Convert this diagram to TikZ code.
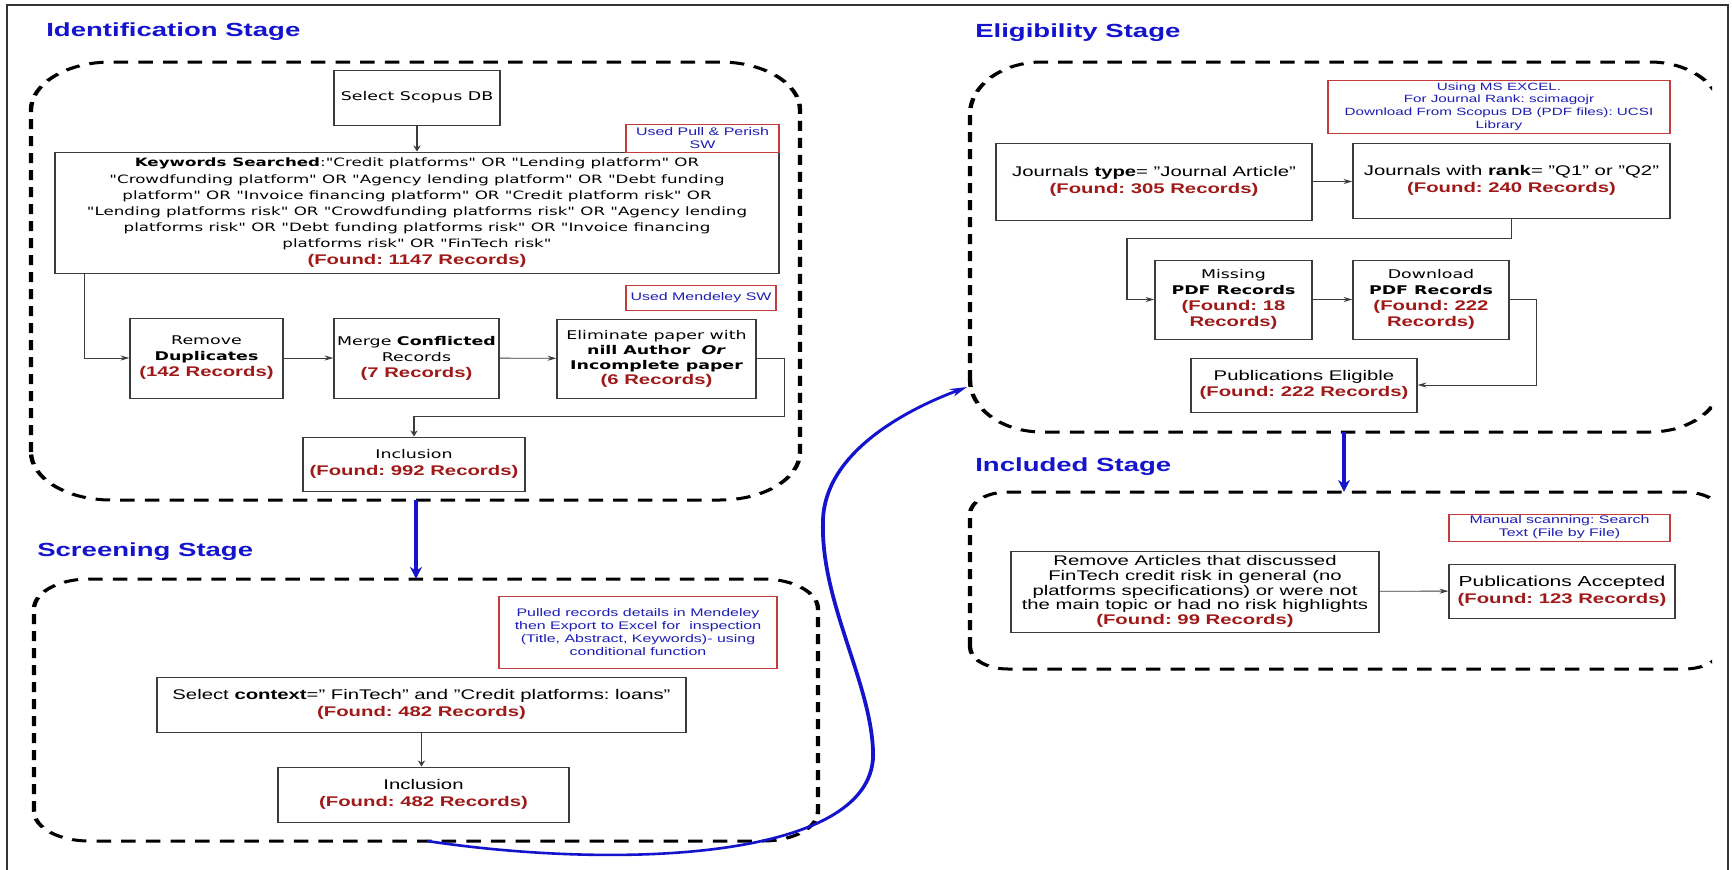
\documentclass[tikz,border=0pt]{standalone}
\usepackage{fontspec}
\setmainfont{Liberation Sans}
\newfontfamily\comic{DejaVu Sans}
\usetikzlibrary{arrows.meta}
\frenchspacing

\definecolor{ttlblue}{RGB}{20,20,205}
\definecolor{recred}{RGB}{160,25,25}
\definecolor{notered}{RGB}{195,60,60}
\definecolor{noteblue}{RGB}{30,30,180}
\definecolor{boxgray}{RGB}{60,60,60}

\newcommand\rec[1]{{\normalfont\bfseries\fontsize{14}{16.7}\selectfont\color{recred}#1}}

\newcommand\stagebox[6]{%
  \draw[stage] (#1,#4-#6) -- (#1,#2+#6)
    arc[start angle=180,end angle=270,x radius=#5,y radius=#6] -- (#3-#5,#2)
    arc[start angle=270,end angle=360,x radius=#5,y radius=#6] -- (#3,#4-#6)
    arc[start angle=0,end angle=90,x radius=#5,y radius=#6] -- (#1+#5,#4)
    arc[start angle=90,end angle=180,x radius=#5,y radius=#6] -- cycle;}

\tikzset{
  pos/.style n args={4}{at={({(#1+#3)/2},{(#2+#4)/2})},
    minimum width={(#3-#1)*0.689655pt}, minimum height={(#4-#2)*1pt}, inner sep=0pt, anchor=center},
  box/.style={draw=boxgray, line width=1pt, align=center,
    font=\fontsize{14}{16.7}\selectfont},
  cbox/.style={box, font=\comic\fontsize{12}{16}\selectfont},
  note/.style={draw=notered, line width=0.8pt, align=center,
    text=noteblue, font=\fontsize{11}{13}\selectfont},
  title/.style={anchor=west, text=ttlblue, font=\bfseries\fontsize{19}{22}\selectfont, inner sep=0pt},
  flow/.style={draw=boxgray, line width=0.9pt, -{Stealth[length=6pt,width=5pt]}},
  bigarrow/.style={draw=ttlblue, line width=2.6pt, -{Stealth[length=12pt,width=8pt]}},
  stage/.style={draw=black, line width=3pt, dash pattern=on 10pt off 7pt},
}

\begin{document}
\begin{tikzpicture}[x=1pt,y=-1pt]
\useasboundingbox (0,0) rectangle (1732,870);
\fill[white] (0,0) rectangle (1732,870);
\draw[line width=1.2pt, black!80] (7,870) -- (7,5) -- (1728,5) -- (1728,870);

\begin{scope}[x=0.689655pt, y=-1pt, transform canvas={xscale=1.45}]

% ---------- titles
\node[title] (t1) at (46,32) {Identification Stage};
\node[title] (t2) at (37,552) {Screening Stage};
\node[title] (t3) at (975,33) {Eligibility Stage};
\node[title] (t4) at (975,467) {Included Stage};

% ---------- stage frames
\stagebox{31}{62}{800}{500}{80}{48}
\stagebox{34}{579}{818}{841}{55}{30}
\begin{scope}
\clip (0,0) rectangle (1712,870);
\stagebox{970}{62}{1722}{432}{72}{52}
\stagebox{970}{492}{1722}{669}{38}{22}
\end{scope}

% ---------- identification
\node[cbox, pos={334}{70}{500}{125}] (scopus) {Select Scopus DB};
\node[cbox, pos={55}{152}{779}{273}, font=\comic\fontsize{11.5}{16.2}\selectfont] (kw)
 {\textbf{Keywords Searched}:"Credit platforms" OR "Lending platform" OR\\
  "Crowdfunding platform" OR "Agency lending platform" OR "Debt funding\\
  platform" OR "Invoice financing platform" OR "Credit platform risk" OR\\
  "Lending platforms risk" OR "Crowdfunding platforms risk" OR "Agency lending\\
  platforms risk" OR "Debt funding platforms risk" OR "Invoice financing\\
  platforms risk" OR "FinTech risk"\\
  \rec{(Found: 1147 Records)}};
\node[note, pos={626}{124}{779}{152}] (pp) {Used Pull \& Perish\\SW};
\node[note, pos={626}{285}{776}{310}] (mend) {Used Mendeley SW};
\node[cbox, pos={130}{318}{283}{398}] (dup) {Remove\\\textbf{Duplicates}\\\rec{(142 Records)}};
\node[cbox, pos={334}{318}{499}{398}] (merge) {Merge \textbf{Conflicted}\\Records\\\rec{(7 Records)}};
\node[cbox, pos={557}{319}{756}{398}, font=\comic\fontsize{12}{15}\selectfont] (elim)
 {Eliminate paper with\\\textbf{nill Author}\ \ \textbf{\textit{Or}}\\\textbf{Incomplete paper}\\\rec{(6 Records)}};
\node[cbox, pos={303}{437}{525}{491}, font=\comic\fontsize{12}{17.5}\selectfont] (inc1) {Inclusion\\\rec{(Found: 992 Records)}};

\draw[flow] (scopus.south) -- (kw.north);
\draw[flow] (kw.south west) ++(30,0) |- (dup.west);
\draw[flow] (dup) -- (merge);
\draw[flow] (merge) -- (elim);
\draw[flow] (elim.east) -- ++(28,0) -- ++(0,58) -| (inc1.north);

\coordinate (idb) at (416,500);
\coordinate (sct) at (416,579);
\draw[bigarrow] (idb) -- (sct);

% ---------- screening
\node[note, pos={499}{596}{777}{668}] (pull) {Pulled records details in Mendeley\\then Export to Excel for\ \ inspection\\(Title, Abstract, Keywords)- using\\conditional function};
\node[box, pos={157}{677}{686}{732}] (ctx) {Select \textbf{context}=" FinTech" and "Credit platforms: loans"\\\rec{(Found: 482 Records)}};
\node[box, pos={278}{767}{569}{822}] (inc2) {Inclusion\\\rec{(Found: 482 Records)}};
\draw[flow] (ctx.south) -- (ctx.south |- inc2.north);

\coordinate (scb) at (427,841);
\coordinate (elb) at (967,387);
\draw[bigarrow] (scb) .. controls (620,870) and (880,860) .. (873,750)
  .. controls (870,680) and (820,600) .. (823,520)
  .. controls (825,455) and (900,412) .. (elb);

% ---------- eligibility
\node[note, pos={1328}{80}{1670}{133}, font=\fontsize{10.5}{12.7}\selectfont] (excel)
 {Using MS EXCEL.\\For Journal Rank: scimagojr\\Download From Scopus DB (PDF files): UCSI\\Library};
\node[box, pos={996}{143}{1312}{220}] (jtype) {Journals \textbf{type}= "Journal Article"\\\rec{(Found: 305 Records)}};
\node[box, pos={1353}{143}{1670}{218}] (jrank) {Journals with \textbf{rank}= "Q1" or "Q2"\\\rec{(Found: 240 Records)}};
\draw[flow] (jtype.east) -- (jtype.east -| jrank.west);
\node[cbox, pos={1155}{260}{1312}{339}] (miss) {Missing\\\textbf{PDF Records}\\\rec{(Found: 18}\\\rec{Records)}};
\node[cbox, pos={1353}{260}{1509}{339}] (down) {Download\\\textbf{PDF Records}\\\rec{(Found: 222}\\\rec{Records)}};
\draw[flow] (jrank.south) -- ++(0,20) -- ++(-384.5,0) |- (miss.west);
\draw[flow] (miss) -- (down);
\node[box, pos={1191}{358}{1417}{412}] (elig) {Publications Eligible\\\rec{(Found: 222 Records)}};
\draw[flow] (down.east) -- ++(27,0) |- (elig.east);

\coordinate (elb2) at (1344,432);
\coordinate (inct) at (1344,492);
\draw[bigarrow] (elb2) -- (inct);

% ---------- included
\node[note, pos={1449}{514}{1670}{541}] (manual) {Manual scanning: Search\\Text (File by File)};
\node[box, pos={1011}{551}{1379}{632}, font=\fontsize{14}{14.8}\selectfont] (remart)
 {Remove Articles that discussed\\FinTech credit risk in general (no\\platforms specifications) or were not\\the main topic or had no risk highlights\\\rec{(Found: 99 Records)}};
\node[box, pos={1449}{564}{1675}{618}, font=\fontsize{14.5}{16.7}\selectfont] (acc) {Publications Accepted\\\rec{(Found: 123 Records)}};
\draw[flow] (remart) -- (acc);

\end{scope}
\end{tikzpicture}
\end{document}
